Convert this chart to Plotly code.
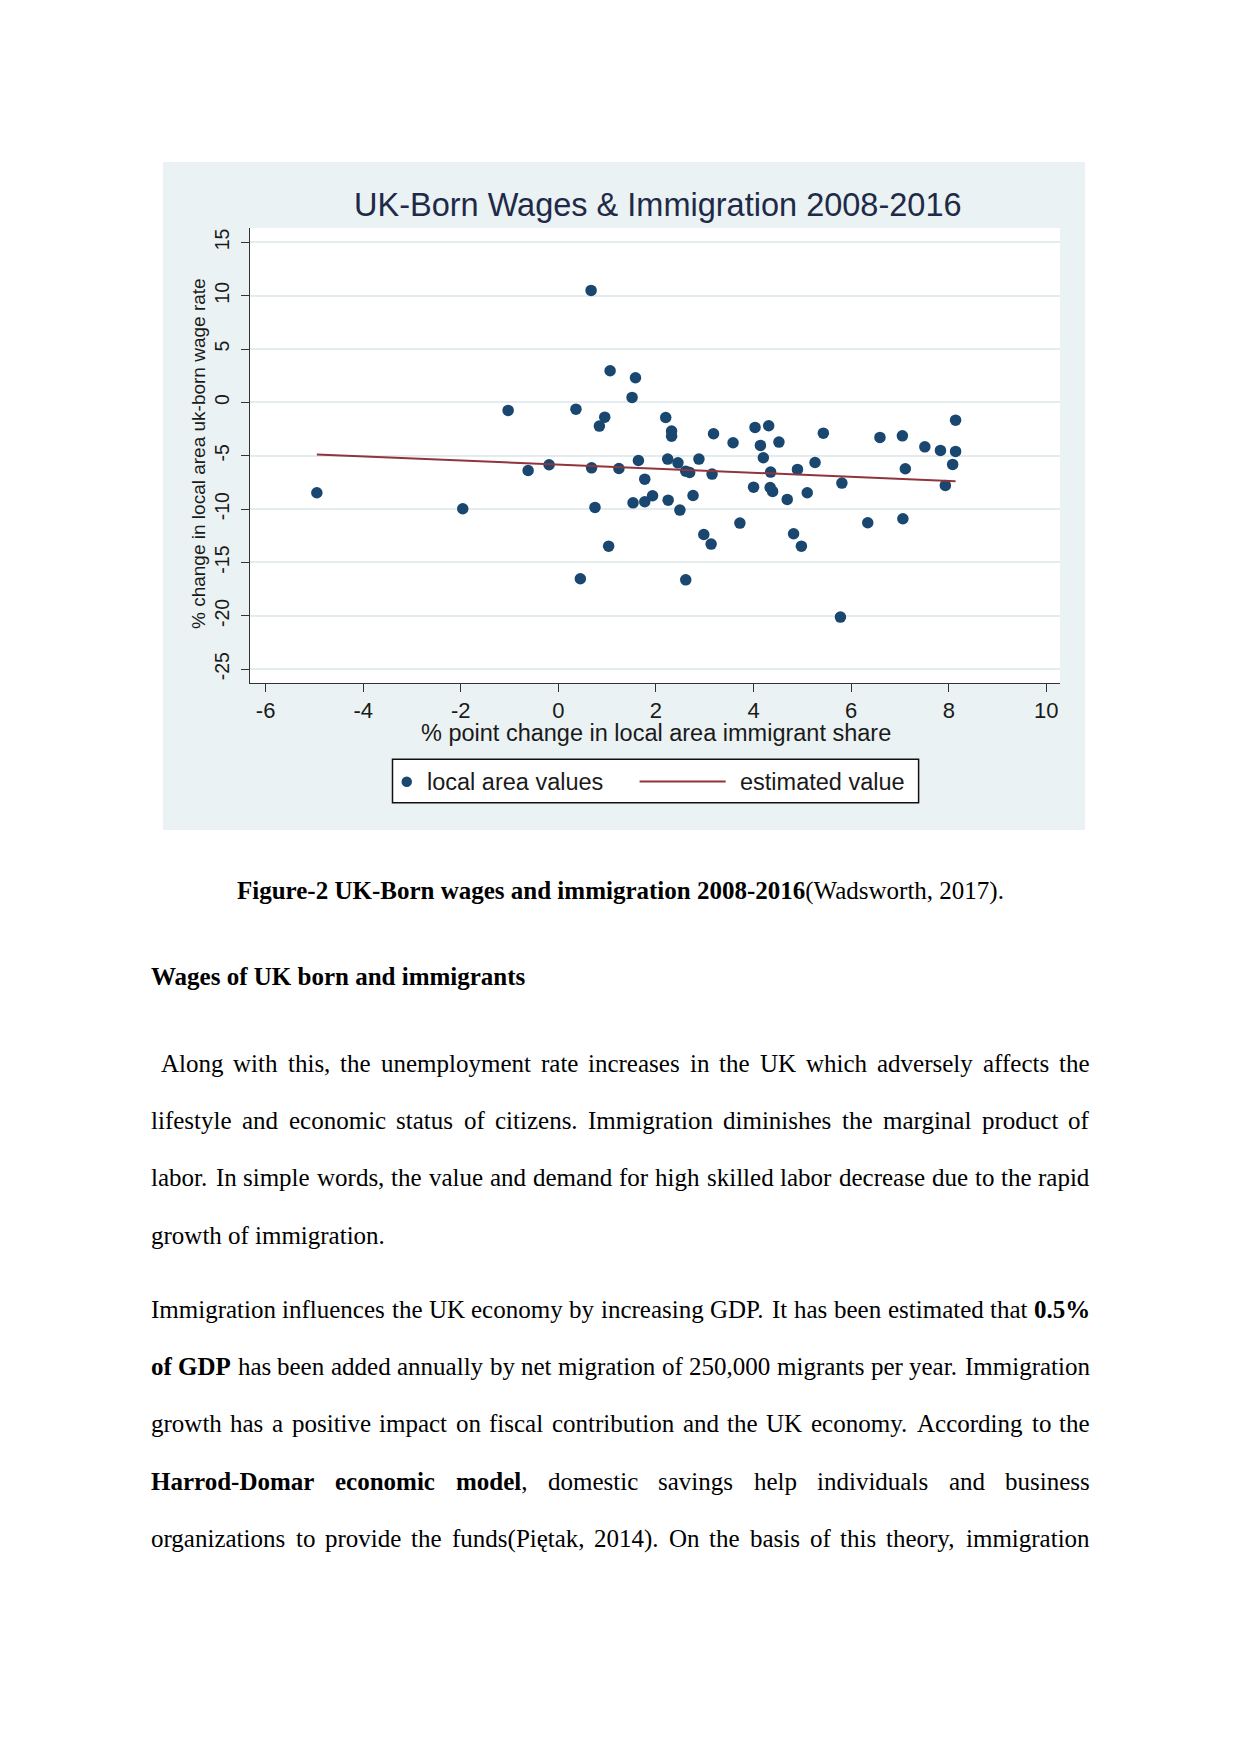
import plotly.graph_objects as go

W, H = 1241, 1754
OFF = 8  # default page margin around the figure

# local area values: % point change in immigrant share (x) vs % change in UK-born wage (y)
share_change = [0.67, 1.06, 1.58, 1.51, -1.03, 0.36, 0.95, 0.84, 2.20, 2.32,
                2.32, 3.18, 3.58, 4.03, 4.31, 4.14, 4.52, 4.20, 5.43, 6.59,
                7.05, 7.51, 7.83, 8.14, 8.14, 8.08, -4.95, -1.96, -0.62, -0.19,
                0.68, 0.75, 0.45, 1.03, 1.24, 1.64, 1.77, 1.53, 1.77, 1.93,
                2.24, 2.25, 2.45, 2.49, 2.61, 2.69, 2.76, 2.88, 2.98, 3.13,
                3.15, 2.61, 3.72, 4.00, 4.35, 4.34, 4.39, 4.69, 4.90, 4.82,
                4.98, 5.10, 5.26, 5.81, 5.78, 6.34, 7.06, 7.11, 7.93]
wage_change = [10.5, 2.97, 2.31, 0.47, -0.75, -0.63, -1.38, -2.22, -1.41, -2.69,
               -3.16, -2.94, -3.78, -2.34, -2.19, -4.03, -3.72, -5.19, -2.88, -3.28,
               -3.13, -4.16, -4.50, -1.66, -4.59, -5.81, -8.47, -9.97, -6.38, -5.84,
               -6.13, -9.84, -16.53, -13.47, -6.19, -5.44, -7.19, -9.41, -9.31, -8.75,
               -5.31, -9.16, -5.66, -10.09, -6.44, -6.56, -8.72, -5.31, -12.38, -13.28,
               -6.72, -16.63, -11.31, -7.94, -6.53, -7.97, -8.34, -9.09, -6.28, -12.31,
               -13.47, -8.47, -5.63, -7.56, -20.12, -11.28, -10.90, -6.22, -7.78]

# estimated value (fitted line end points)
fit_x = [-4.95, 8.14]
fit_y = [-4.88, -7.38]

x_ticks = [-6, -4, -2, 0, 2, 4, 6, 8, 10]
x_tick_labels = ["-6", "-4", "-2", "0", "2", "4", "6", "8", "10"]
y_ticks = [-25, -20, -15, -10, -5, 0, 5, 10, 15]
y_tick_labels = ["-25", "-20", "-15", "-10", "-5", "0", "5", "10", "15"]

chart_title = "UK-Born Wages & Immigration 2008-2016"
x_title = "% point change in local area immigrant share"
y_title = "% change in local area uk-born wage rate"
legend_labels = ["local area values", "estimated value"]

caption = "<b>Figure-2 UK-Born wages and immigration 2008-2016</b>(Wadsworth, 2017)."
heading = "<b>Wages of UK born and immigrants</b>"
para1 = [
    "Along with this, the unemployment rate increases in the UK which adversely affects the",
    "lifestyle and economic status of citizens. Immigration diminishes the marginal product of",
    "labor. In simple words, the value and demand for high skilled labor decrease due to the rapid",
    "growth of immigration.",
]
para2 = [
    "Immigration influences the UK economy by increasing GDP. It has been estimated that <b>0.5%</b>",
    "<b>of GDP</b> has been added annually by net migration of 250,000 migrants per year. Immigration",
    "growth has a positive impact on fiscal contribution and the UK economy. According to the",
    "<b>Harrod-Domar economic model</b>, domestic savings help individuals and business",
    "organizations to provide the funds(Piętak, 2014). On the basis of this theory, immigration",
]

NAVY = "#1a476f"
MAROON = "#90353b"
PANEL = "#eaf2f3"
SANS = "Liberation Sans"
SERIF = "Liberation Serif"
BODY = 25

# Times metrics (Liberation Serif is metric compatible), used to justify lines
def _table(groups):
    t = {}
    for w, chars in groups:
        for c in chars:
            t[c] = w
    return t

ROMAN = _table([(250, " ,."), (278, "ijlt:;/"), (333, "fr-()I'[]`"), (389, "sJ"),
                (444, "acezę?"), (500, "bdghknopquvxy0123456789_*$#"), (556, "FPS"),
                (564, "+<=>"), (611, "ELTZ"), (667, "BCR"), (722, "ADGHKNOQUVXYw"),
                (778, "m&"), (833, "%"), (889, "M"), (944, "W")])
BOLD = _table([(250, " ,."), (278, "il"), (333, "ftj-()"), (389, "sI"), (444, "cerz"),
               (500, "agovxyJ0123456789"), (556, "bdhknpquS"), (611, "FP"), (667, "BELT"),
               (722, "ACDNRUVXYw"), (778, "GHKOQ"), (833, "m"), (944, "M"), (1000, "%W")])


def text_width(s, bold):
    tab = BOLD if bold else ROMAN
    return sum(tab.get(c, 500) for c in s) * BODY / 1000.0


def words_of(line):
    out = []
    bold = False
    for raw in line.split(" "):
        segs, buf, i = [], "", 0
        while i < len(raw):
            if raw.startswith("<b>", i):
                if buf:
                    segs.append((buf, bold))
                    buf = ""
                bold = True
                i += 3
            elif raw.startswith("</b>", i):
                if buf:
                    segs.append((buf, bold))
                    buf = ""
                bold = False
                i += 4
            else:
                buf += raw[i]
                i += 1
        if buf:
            segs.append((buf, bold))
        markup = "".join(f"<b>{t}</b>" if b else t for t, b in segs)
        out.append((markup, sum(text_width(t, b) for t, b in segs)))
    return out


FW, FH = W - OFF, H - OFF


def px(x):
    return (x - OFF) / FW


def py(y):
    return 1 - (y - OFF) / FH


fig = go.Figure()

fig.add_trace(go.Scatter(
    x=share_change, y=wage_change, mode="markers", name=legend_labels[0],
    marker=dict(color=NAVY, size=11.5, line=dict(width=0)), showlegend=False))
fig.add_trace(go.Scatter(
    x=fit_x, y=fit_y, mode="lines", name=legend_labels[1],
    line=dict(color=MAROON, width=2), showlegend=False))

shapes = [
    dict(type="rect", xref="paper", yref="paper", x0=px(163), x1=px(1085), y0=py(830), y1=py(162),
         fillcolor=PANEL, line=dict(width=0), layer="below"),
    dict(type="rect", xref="x domain", yref="y domain", x0=0, x1=1, y0=0, y1=1,
         fillcolor="white", line=dict(width=0), layer="below"),
    # legend box
    dict(type="rect", xref="paper", yref="paper", x0=px(392.5), x1=px(918.6), y0=py(802.7), y1=py(759.3),
         fillcolor="white", line=dict(color="#111111", width=1.5)),
    dict(type="circle", xref="paper", yref="paper", x0=px(401.5), x1=px(412), y0=py(787), y1=py(776.5),
         fillcolor=NAVY, line=dict(width=0)),
    dict(type="line", xref="paper", yref="paper", x0=px(639.6), x1=px(725.7), y0=py(781.5), y1=py(781.5),
         line=dict(color=MAROON, width=2)),
]

ann = [
    dict(text=chart_title, x=px(658), y=py(205), xanchor="center", yanchor="middle",
         font=dict(family=SANS, size=32.5, color="#1f2a48")),
    dict(text=x_title, x=px(656), y=py(733), xanchor="center", yanchor="middle",
         font=dict(family=SANS, size=23.5, color="#1a1a1a")),
    dict(text=y_title, x=px(199), y=py(454), xanchor="center", yanchor="middle", textangle=-90,
         font=dict(family=SANS, size=19, color="#1a1a1a")),
    dict(text=legend_labels[0], x=px(427), y=py(781.5), xanchor="left", yanchor="middle",
         font=dict(family=SANS, size=23.5, color="#1a1a1a")),
    dict(text=legend_labels[1], x=px(740), y=py(781.5), xanchor="left", yanchor="middle",
         font=dict(family=SANS, size=23.5, color="#1a1a1a")),
    dict(text=caption, x=px(620.5), y=py(891), xanchor="center", yanchor="middle",
         font=dict(family=SERIF, size=BODY, color="black")),
    dict(text=heading, x=px(151), y=py(976), xanchor="left", yanchor="middle",
         font=dict(family=SERIF, size=BODY, color="black")),
]

LEFT, RIGHT = 151, 1090
STEP = 57.4


def add_paragraph(lines, top, indent_first=0, ends_paragraph=True):
    for k, line in enumerate(lines):
        y = top + k * STEP
        start = LEFT + (10 if (k == 0 and indent_first) else 0)
        words = words_of(line)
        last = ends_paragraph and k == len(lines) - 1
        if last or len(words) == 1:
            gap = BODY * 0.25
        else:
            gap = (RIGHT - start - sum(w for _, w in words)) / (len(words) - 1)
        x = start
        for j, (markup, w) in enumerate(words):
            if j == len(words) - 1 and not last:
                ann.append(dict(text=markup, x=px(RIGHT), y=py(y), xanchor="right", yanchor="middle",
                                font=dict(family=SERIF, size=BODY, color="black")))
            else:
                ann.append(dict(text=markup, x=px(x), y=py(y), xanchor="left", yanchor="middle",
                                font=dict(family=SERIF, size=BODY, color="black")))
            x += w + gap


add_paragraph(para1, 1063, indent_first=1)
add_paragraph(para2, 1309, ends_paragraph=False)

for a in ann:
    a.update(xref="paper", yref="paper", showarrow=False, borderpad=0, borderwidth=0)

fig.update_layout(
    width=FW, height=FH, autosize=False,
    margin=dict(l=0, r=0, t=0, b=0),
    paper_bgcolor="white", plot_bgcolor="white",
    showlegend=False,
    shapes=shapes, annotations=ann,
    xaxis=dict(domain=[px(250), px(1060)], range=[-6.32, 10.28],
               tickvals=x_ticks, ticktext=x_tick_labels,
               showgrid=False, zeroline=False, showline=True, linecolor="#333333", linewidth=1,
               ticks="outside", ticklen=8, tickcolor="#333333",
               tickfont=dict(family=SANS, size=22, color="#1a1a1a")),
    yaxis=dict(domain=[py(683), py(228)], range=[-26.3, 16.35],
               tickvals=y_ticks, ticktext=y_tick_labels,
               showgrid=True, gridcolor="#e4ecee", gridwidth=1.5, zeroline=False,
               showline=True, linecolor="#333333", linewidth=1,
               ticks="outside", ticklen=8, tickcolor="#333333", tickangle=-90,
               ticklabelstandoff=4,
               tickfont=dict(family=SANS, size=19.5, color="#1a1a1a")),
)

fig.write_html("out.html")
